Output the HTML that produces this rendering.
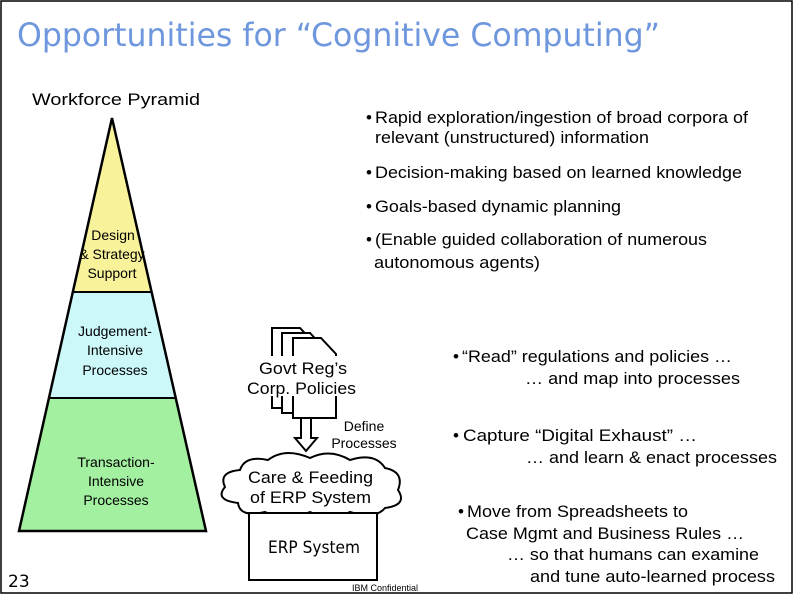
<!DOCTYPE html>
<html><head><style>
body{margin:0;background:#fff}
svg{display:block}
text{font-family:"Liberation Sans",Arial,sans-serif;fill:#000}
</style></head><body>
<svg width="794" height="595" viewBox="0 0 794 595" xmlns="http://www.w3.org/2000/svg">
<rect x="1" y="1" width="791" height="592" fill="#fff" stroke="#000" stroke-width="1.5"/>
<text x="17" y="46" font-size="32" textLength="643" lengthAdjust="spacingAndGlyphs" style="fill:#6f97dd;font-family:'DejaVu Sans',sans-serif">Opportunities for “Cognitive Computing”</text>
<text x="32" y="105" font-size="17" textLength="168" lengthAdjust="spacingAndGlyphs">Workforce Pyramid</text>
<!-- pyramid -->
<polygon points="112,118 151,292 74,292" fill="#f8f29a"/>
<polygon points="74,292 151,292 176,398 49,398" fill="#ccf8fa"/>
<polygon points="49,398 176,398 206,531 19,531" fill="#a2f0a0"/>
<polygon points="112,118 206,531 19,531" fill="none" stroke="#000" stroke-width="2.5"/>
<line x1="74" y1="292" x2="151" y2="292" stroke="#000" stroke-width="2"/>
<line x1="49" y1="398" x2="176" y2="398" stroke="#000" stroke-width="2"/>
<g font-size="14" text-anchor="middle">
<text x="113" y="240">Design</text><text x="112" y="259">&amp; Strategy</text><text x="112" y="278">Support</text>
<text x="115" y="336">Judgement-</text><text x="115" y="355">Intensive</text><text x="115" y="375">Processes</text>
<text x="116" y="467">Transaction-</text><text x="116" y="486">Intensive</text><text x="116" y="505">Processes</text>
</g>
<text x="8" y="587" font-size="17" style="font-family:'DejaVu Sans',sans-serif">23</text>
<!-- bullets -->
<g font-size="17" lengthAdjust="spacingAndGlyphs">
<text x="366" y="123">•</text><text x="375" y="123" textLength="373" lengthAdjust="spacingAndGlyphs">Rapid exploration/ingestion of broad corpora of</text>
<text x="375" y="143" textLength="274" lengthAdjust="spacingAndGlyphs">relevant (unstructured) information</text>
<text x="366" y="178">•</text><text x="375" y="178" textLength="367" lengthAdjust="spacingAndGlyphs">Decision-making based on learned knowledge</text>
<text x="366" y="212">•</text><text x="375" y="212" textLength="246" lengthAdjust="spacingAndGlyphs">Goals-based dynamic planning</text>
<text x="366" y="245">•</text><text x="375" y="245" textLength="332" lengthAdjust="spacingAndGlyphs">(Enable guided collaboration of numerous</text>
<text x="374" y="268" textLength="166" lengthAdjust="spacingAndGlyphs">autonomous agents)</text>
<text x="453" y="362">•</text><text x="462" y="362" textLength="270" lengthAdjust="spacingAndGlyphs">“Read” regulations and policies …</text>
<text x="525" y="384" textLength="215" lengthAdjust="spacingAndGlyphs">… and map into processes</text>
<text x="453" y="441">•</text><text x="463" y="441" textLength="234" lengthAdjust="spacingAndGlyphs">Capture “Digital Exhaust” …</text>
<text x="526" y="463" textLength="251" lengthAdjust="spacingAndGlyphs">… and learn &amp; enact processes</text>
<text x="458" y="517">•</text><text x="467" y="517" textLength="221" lengthAdjust="spacingAndGlyphs">Move from Spreadsheets to</text>
<text x="466" y="539" textLength="278" lengthAdjust="spacingAndGlyphs">Case Mgmt and Business Rules …</text>
<text x="507" y="560" textLength="252" lengthAdjust="spacingAndGlyphs">… so that humans can examine</text>
<text x="530" y="582" textLength="245" lengthAdjust="spacingAndGlyphs">and tune auto-learned process</text>
</g>
<!-- docs -->
<g fill="#fff" stroke="#000" stroke-width="2">
<polygon points="272,328 300,328 315,344 315,408 272,408"/>
<polygon points="282,333 310,333 325,349 325,413 282,413"/>
<polygon points="293,338 321,338 336,354 336,418 293,418"/>
</g>
<rect x="246" y="356" width="112" height="40" fill="#fff"/>
<text x="259" y="374" font-size="17" textLength="88" lengthAdjust="spacingAndGlyphs">Govt Reg’s</text>
<text x="247" y="394" font-size="17" textLength="109" lengthAdjust="spacingAndGlyphs">Corp. Policies</text>
<polygon points="301,418 311,418 311,438 317,438 306,451 295,438 301,438" fill="#fff" stroke="#000" stroke-width="2"/>
<text x="364" y="431" font-size="14" text-anchor="middle">Define</text>
<text x="364" y="448" font-size="14" text-anchor="middle">Processes</text>
<!-- cloud -->
<path d="M240,470 Q245,455 268,460 Q285,447 310,458 Q330,448 350,460 Q375,452 385,468 Q405,472 398,490 Q408,505 385,508 Q375,520 350,512 Q330,522 310,512 Q285,522 265,512 Q240,518 238,503 Q214,500 225,487 Q218,472 240,470 Z" fill="#fff" stroke="#000" stroke-width="2"/>
<text x="248" y="483" font-size="17" textLength="125" lengthAdjust="spacingAndGlyphs">Care &amp; Feeding</text>
<text x="250" y="503" font-size="17" textLength="121" lengthAdjust="spacingAndGlyphs">of ERP System</text>
<rect x="249" y="513" width="128" height="67" fill="#fff" stroke="#000" stroke-width="2"/>
<text x="268" y="553" font-size="17" textLength="92" lengthAdjust="spacingAndGlyphs" style="font-family:'DejaVu Sans',sans-serif">ERP System</text>
<text x="385" y="591" font-size="9" text-anchor="middle">IBM Confidential</text>
</svg>
</body></html>
